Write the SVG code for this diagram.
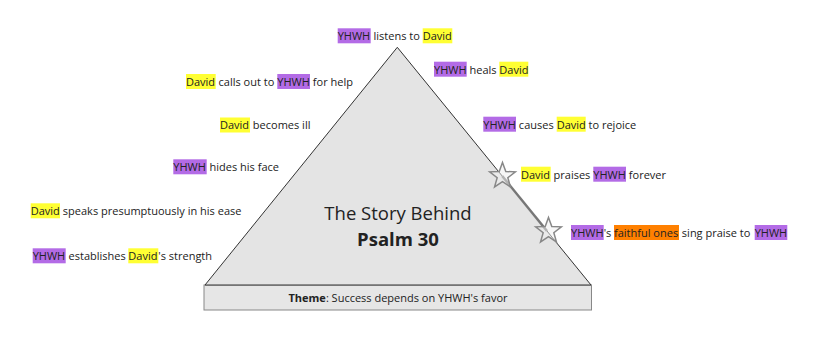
<svg xmlns="http://www.w3.org/2000/svg" width="825" height="337" viewBox="0 0 825 337">
<defs>
<style>
text{font-family:"Open Sans","Noto Sans","Liberation Sans",sans-serif;font-size:11px;fill:#222}
.y{fill:#ffff33}
.p{fill:#b36be6}
.o{fill:#ff8000}
.star{fill:#f0f0f0;fill-opacity:0.5;stroke:#888;stroke-width:1.5;stroke-linejoin:miter}
</style>
<path id="st" d="M0,-13.5 L3.29,-4.53 L12.84,-4.17 L5.33,1.73 L7.94,10.92 L0,5.6 L-7.94,10.92 L-5.33,1.73 L-12.84,-4.17 L-3.29,-4.53 Z"/>
</defs>
<rect width="825" height="337" fill="#fff"/>
<g id="triangle">
<rect x="204" y="285" width="387.5" height="25" fill="#e6e6e6" stroke="#888" stroke-width="1"/>
<polygon points="397.3,47.3 591,285 205,285" fill="#e4e4e4" stroke="#333" stroke-width="1"/>
<text x="398" y="220" text-anchor="middle" style="font-size:18.5px">The Story Behind</text>
<text x="398" y="246" text-anchor="middle" style="font-size:18.5px;font-weight:bold">Psalm 30</text>
<text x="398" y="302" text-anchor="middle"><tspan font-weight="bold">Theme</tspan>: Success depends on YHWH's favor</text>
</g>
<g id="connectors">
<line x1="502.2" y1="176" x2="547" y2="231" stroke="#777" stroke-width="2.5"/>
</g>
<g id="stars">
<use href="#st" class="star" transform="translate(502.5,176)"/>
<use href="#st" class="star" transform="translate(548.5,231)"/>
</g>
<g id="e1">
<rect class="p" x="337.7" y="28.3" width="33" height="15"/><rect class="y" x="422.7" y="28.3" width="29.6" height="15"/>
<text y="40"><tspan x="337.7">YHWH</tspan><tspan x="370.7"> listens to </tspan><tspan x="422.7">David</tspan></text>
</g>
<g id="e2">
<rect class="p" x="434" y="61.7" width="32.7" height="15"/><rect class="y" x="499.3" y="61.7" width="29" height="15"/>
<text y="73.5"><tspan x="434">YHWH</tspan><tspan x="466.7"> heals </tspan><tspan x="499.3">David</tspan></text>
</g>
<g id="e3">
<rect class="y" x="186" y="74" width="29.7" height="15"/><rect class="p" x="277.3" y="74" width="32.7" height="15"/>
<text y="85.8"><tspan x="186">David</tspan><tspan x="215.7"> calls out to </tspan><tspan x="277.3">YHWH</tspan><tspan x="310"> for help</tspan></text>
</g>
<g id="e4">
<rect class="y" x="220" y="117.5" width="30" height="15"/>
<text y="129.3"><tspan x="220">David</tspan><tspan x="250"> becomes ill</tspan></text>
</g>
<g id="e5">
<rect class="p" x="173.3" y="159.3" width="33.4" height="15"/>
<text y="171"><tspan x="173.3">YHWH</tspan><tspan x="206.7"> hides his face</tspan></text>
</g>
<g id="e6">
<rect class="y" x="30.7" y="203.3" width="29.3" height="15"/>
<text y="215"><tspan x="30.7">David</tspan><tspan x="60"> speaks presumptuously in his ease</tspan></text>
</g>
<g id="e7">
<rect class="p" x="32.7" y="248.3" width="33" height="15"/><rect class="y" x="128.3" y="248.3" width="30" height="15"/>
<text y="260"><tspan x="32.7">YHWH</tspan><tspan x="65.7"> establishes </tspan><tspan x="128.3">David</tspan><tspan x="158.3">'s strength</tspan></text>
</g>
<g id="e8">
<rect class="p" x="483.3" y="116.7" width="32.7" height="15"/><rect class="y" x="556.7" y="116.7" width="29" height="15"/>
<text y="128.5"><tspan x="483.3">YHWH</tspan><tspan x="516"> causes </tspan><tspan x="556.7">David</tspan><tspan x="585.7"> to rejoice</tspan></text>
</g>
<g id="e9">
<rect class="y" x="521" y="166.7" width="29.7" height="15"/><rect class="p" x="593.3" y="166.7" width="32.7" height="15"/>
<text y="178.5"><tspan x="521">David</tspan><tspan x="550.7"> praises </tspan><tspan x="593.3">YHWH</tspan><tspan x="626"> forever</tspan></text>
</g>
<g id="e10">
<rect class="p" x="571" y="225" width="32.7" height="15"/><rect class="o" x="614" y="225" width="65" height="15"/><rect class="p" x="754.7" y="225" width="32.6" height="15"/>
<text y="236.8"><tspan x="571">YHWH</tspan><tspan x="603.7">'s </tspan><tspan x="614">faithful ones</tspan><tspan x="679"> sing praise to </tspan><tspan x="754.7">YHWH</tspan></text>
</g>
</svg>
